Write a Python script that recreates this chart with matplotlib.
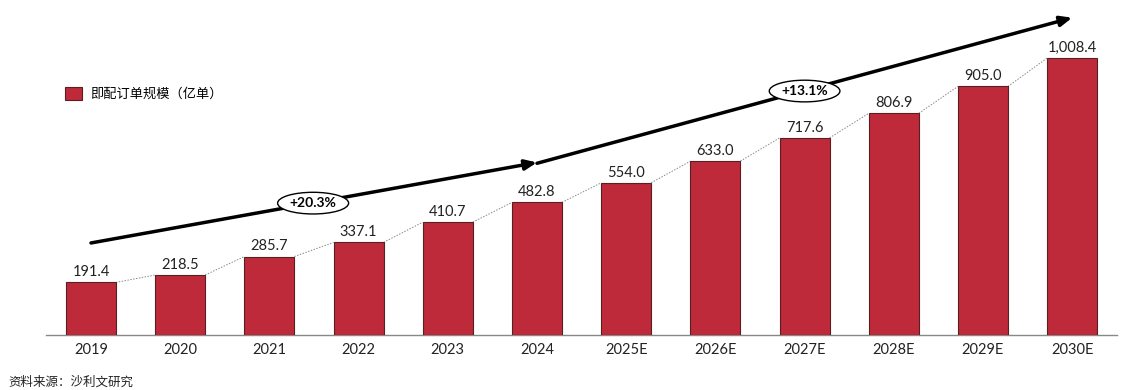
import matplotlib
matplotlib.use("Agg")
import matplotlib.pyplot as plt

plt.rcParams['font.family'] = ['Lato', 'Noto Sans CJK SC', 'DejaVu Sans']

years = ['2019', '2020', '2021', '2022', '2023', '2024', '2025E', '2026E', '2027E', '2028E', '2029E', '2030E']
values = [191.4, 218.5, 285.7, 337.1, 410.7, 482.8, 554.0, 633.0, 717.6, 806.9, 905.0, 1008.4]
labels = ['191.4', '218.5', '285.7', '337.1', '410.7', '482.8', '554.0', '633.0', '717.6', '806.9', '905.0', '1,008.4']
legend_label = '即配订单规模（亿单）'
cagr_labels = ['+20.3%', '+13.1%']
source = '资料来源：沙利文研究'

fig = plt.figure(figsize=(11.26, 3.9), dpi=100)
ax = fig.add_axes([46.4 / 1126, 55 / 390, 1070.4 / 1126, 325 / 390])

x = list(range(len(years)))
w = 0.56
bars = ax.bar(x, values, width=w, color='#BE2A3A', edgecolor='#5A1E24', linewidth=0.8,
              label=legend_label, zorder=3)

for i, (v, lab) in enumerate(zip(values, labels)):
    ax.text(i, v + 12, lab, ha='center', va='bottom', fontsize=10.5, color='#222222')

for i in range(len(values) - 1):
    ax.plot([i + w / 2, i + 1 - w / 2], [values[i], values[i + 1]], color='#888888',
            linestyle=(0, (1.5, 1.5)), linewidth=0.7, zorder=2)

ax.set_xlim(-0.5, len(years) - 0.5)
ax.set_ylim(0, 1183)
ax.set_xticks(x)
ax.set_xticklabels(years, fontsize=10.5, color='#222222')
ax.tick_params(axis='x', length=0, pad=6)
ax.set_yticks([])
for s in ['top', 'right', 'left']:
    ax.spines[s].set_visible(False)
ax.spines['bottom'].set_color('#888888')
ax.spines['bottom'].set_linewidth(1)

arrow = dict(arrowstyle='-|>,head_length=0.7,head_width=0.3', color='black', lw=2.5,
             shrinkA=0, shrinkB=0)
ax.annotate('', xy=(5.0, 628), xytext=(0.0, 335), arrowprops=arrow, zorder=5)
ax.annotate('', xy=(11.0, 1155), xytext=(5.0, 625), arrowprops=arrow, zorder=5)

ell = dict(boxstyle='ellipse,pad=0.12', fc='white', ec='black', lw=1)
ax.text(2.49, 480, cagr_labels[0], ha='center', va='center', fontsize=10, fontweight='bold',
        bbox=ell, zorder=6)
ax.text(8.0, 888, cagr_labels[1], ha='center', va='center', fontsize=10, fontweight='bold',
        bbox=ell, zorder=6)

leg = ax.legend(loc='upper left', bbox_to_anchor=(0.006, 0.80), frameon=False,
                handlelength=1.3, handleheight=1.1, handletextpad=0.6,
                prop={'family': ['Noto Sans CJK SC'], 'size': 9.5})

fig.text(8 / 1126, 1 - 382 / 390, source, ha='left', va='center', fontsize=9,
         style='italic', family=['Noto Sans CJK SC'], color='#222222')

fig.savefig('out.png', dpi=100)
